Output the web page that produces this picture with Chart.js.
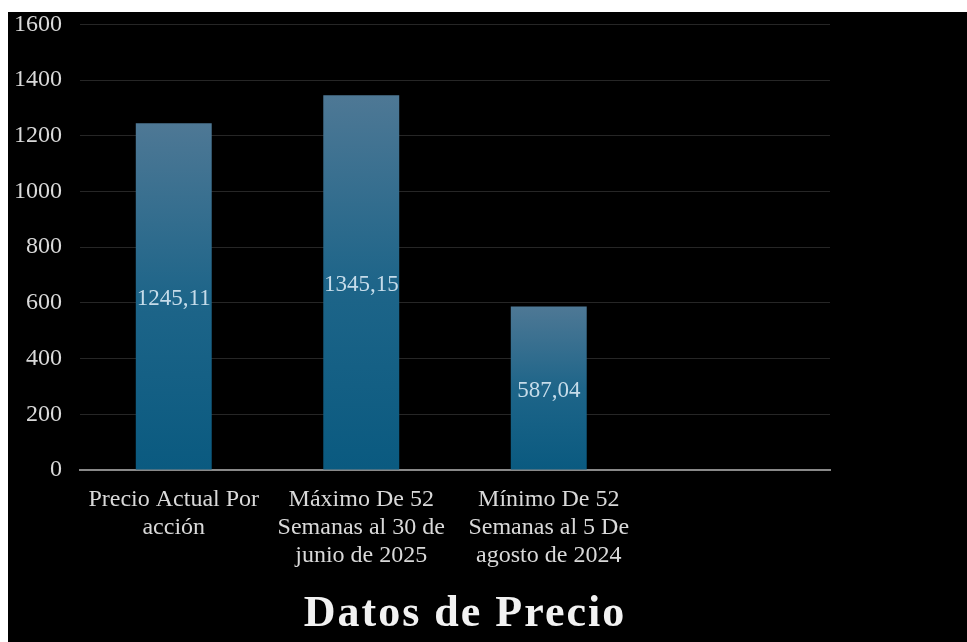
<!DOCTYPE html>
<html lang="es">
  <head>
    <meta charset="UTF-8" />
    <script src="https://cdn.jsdelivr.net/npm/chart.js@4.4.0/dist/chart.umd.min.js"></script>
    <title>Datos de Precio</title>
    <style>
      html, body { margin: 0; background: #fff; }
      #wrap { position: absolute; left: 8px; top: 12px; width: 959px; height: 630px; background: #000; overflow: hidden; }
      #inner { position: absolute; left: 0; top: -20px; width: 959px; height: 650px; }
    </style>
  </head>
  <body>
    <div id="wrap"><div id="inner"><canvas id="chart"></canvas></div></div>
    <script>
      const categories = [
        ["Precio Actual Por", "acción"],
        ["Máximo De 52", "Semanas al 30 de", "junio de 2025"],
        ["Mínimo De 52", "Semanas al 5 De", "agosto de 2024"],
        "",
      ];
      const precios = [1245.11, 1345.15, 587.04, null];
      const chartTitle = "Datos de Precio";

      const serif = "'Liberation Serif', 'Times New Roman', serif";

      function barFill(context) {
        const chart = context.chart;
        const { chartArea, scales } = chart;
        const v = context.raw;
        if (!chartArea || v == null) return "#0b5a80";
        const top = scales.y.getPixelForValue(v);
        const base = scales.y.getPixelForValue(0);
        const g = chart.ctx.createLinearGradient(0, top, 0, base);
        g.addColorStop(0, "#4e7895");
        g.addColorStop(0.5, "#1e6589");
        g.addColorStop(1, "#0a5a80");
        return g;
      }

      const valueLabels = {
        id: "valueLabels",
        afterDatasetsDraw(chart) {
          const ctx = chart.ctx;
          const meta = chart.getDatasetMeta(0);
          ctx.save();
          ctx.font = "23px " + serif;
          ctx.fillStyle = "#c6dcea";
          ctx.textAlign = "center";
          ctx.textBaseline = "middle";
          meta.data.forEach((bar, i) => {
            const v = precios[i];
            if (v == null) return;
            const txt = v.toFixed(2).replace(".", ",");
            ctx.fillText(txt, bar.x, (bar.y + bar.base) / 2 + 3);
          });
          ctx.restore();
        },
      };

      const bottomTitle = {
        id: "bottomTitle",
        afterDraw(chart) {
          const ctx = chart.ctx;
          const a = chart.chartArea;
          ctx.save();
          ctx.font = "bold 44px " + serif;
          ctx.letterSpacing = "2px";
          ctx.fillStyle = "#f2f2f2";
          ctx.textAlign = "center";
          ctx.textBaseline = "middle";
          ctx.fillText(chartTitle, (a.left + a.right) / 2 + 10, chart.height - 27);
          ctx.restore();
        },
      };

      new Chart(document.getElementById("chart"), {
        type: "bar",
        data: {
          labels: categories,
          datasets: [
            {
              data: precios,
              backgroundColor: barFill,
              barPercentage: 0.9,
              categoryPercentage: 0.45,
            },
          ],
        },
        options: {
          responsive: true,
          maintainAspectRatio: false,
          animation: false,
          layout: { padding: { left: 8, right: 137, top: 0, bottom: 64 } },
          plugins: { legend: { display: false }, tooltip: { enabled: false }, title: { display: false } },
          scales: {
            y: {
              min: 0,
              max: 1600,
              afterFit(scale) { scale.width = 64; },
              ticks: {
                stepSize: 200,
                color: "#d9d9d9",
                padding: 18,
                font: { family: serif, size: 24 },
                callback: (v) => String(v),
              },
              grid: { color: "#262626", lineWidth: 1, drawTicks: false },
              border: { display: false },
            },
            x: {
              ticks: { color: "#d9d9d9", padding: 8, maxRotation: 0, autoSkip: false, font: { family: serif, size: 24, lineHeight: 1.167 } },
              grid: { display: false },
              border: { display: true, color: "#898989", width: 2 },
            },
          },
        },
        plugins: [valueLabels, bottomTitle],
      });
    </script>
  </body>
</html>
